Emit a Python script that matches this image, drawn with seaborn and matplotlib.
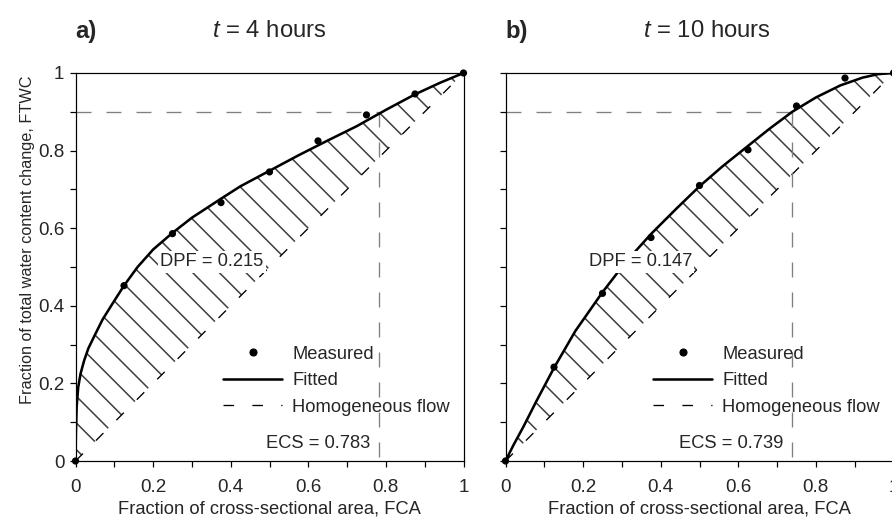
import numpy as np
import matplotlib
matplotlib.use("Agg")
import matplotlib.pyplot as plt
import seaborn as sns
from matplotlib.lines import Line2D
from matplotlib.ticker import MultipleLocator, FuncFormatter

# measured points
fca_measured = [0, 0.125, 0.25, 0.375, 0.5, 0.625, 0.75, 0.875, 1.0]
ftwc_measured_4h = [0, 0.452, 0.586, 0.666, 0.745, 0.825, 0.892, 0.946, 1.0]
ftwc_measured_10h = [0, 0.242, 0.432, 0.576, 0.71, 0.802, 0.915, 0.987, 1.0]

# fitted curves
fca_fit_4h = [0, 0.001, 0.003, 0.007, 0.013, 0.022, 0.033, 0.05, 0.07, 0.095, 0.125,
              0.16, 0.2, 0.25, 0.3, 0.375, 0.425, 0.5, 0.575, 0.65, 0.725, 0.8,
              0.875, 0.94, 1.0]
ftwc_fit_4h = [0, 0.07, 0.14, 0.19, 0.225, 0.258, 0.29, 0.325, 0.365, 0.405, 0.452,
               0.50, 0.545, 0.588, 0.627, 0.676, 0.708, 0.748, 0.788, 0.826, 0.863, 0.905,
               0.945, 0.975, 1.0]
fca_fit_10h = [0, 0.02, 0.046, 0.08, 0.125, 0.18, 0.25, 0.31, 0.375, 0.44, 0.5,
               0.56, 0.625, 0.68, 0.739, 0.8, 0.863, 0.92, 0.96, 1.0]
ftwc_fit_10h = [0, 0.04, 0.088, 0.155, 0.24, 0.335, 0.435, 0.513, 0.585, 0.65, 0.708,
                0.76, 0.812, 0.856, 0.9, 0.937, 0.968, 0.988, 0.997, 1.0]

panel_tags = ["a)", "b)"]
panel_hours = ["4", "10"]
dpf_values = [0.215, 0.147]
ecs_values = [0.783, 0.739]
ftwc_threshold = 0.9

sns.set_style("ticks")
plt.rcParams["font.family"] = ["Liberation Sans", "DejaVu Sans"]
plt.rcParams["mathtext.fontset"] = "custom"
plt.rcParams["mathtext.rm"] = "Liberation Sans"
plt.rcParams["mathtext.it"] = "Liberation Sans:italic"
plt.rcParams["hatch.linewidth"] = 1.4
plt.rcParams["lines.scale_dashes"] = False

dpi = 80
fig = plt.figure(figsize=(892 / dpi, 518 / dpi), dpi=dpi)
W, H = 892, 518
ax_a = fig.add_axes([75.5 / W, (518 - 461) / H, 388 / W, 388 / H])
ax_b = fig.add_axes([505.5 / W, (518 - 461) / H, 388 / W, 388 / H])

panels = [
    (ax_a, fca_fit_4h, ftwc_fit_4h, ftwc_measured_4h),
    (ax_b, fca_fit_10h, ftwc_fit_10h, ftwc_measured_10h),
]
diag_style = (0, (9.5, 16.5))
grey_style = (0, (13.5, 13.5))
fs = 16.5

for i, (ax, fx, fy, my) in enumerate(panels):
    fx_arr = np.array(fx)
    ax.fill_between(fx_arr, fx_arr, fy, facecolor="white", edgecolor="0.25",
                    hatch="\\", linewidth=0, zorder=1)
    sns.lineplot(x=[0, 1], y=[0, 1], color="black", lw=1.2, linestyle=diag_style,
                 ax=ax, zorder=2)
    ecs = ecs_values[i]
    ax.plot([0, ecs], [ftwc_threshold, ftwc_threshold], color="0.5", lw=1.2,
            linestyle=grey_style, zorder=2)
    ax.plot([ecs, ecs], [ftwc_threshold, 0], color="0.5", lw=1.2,
            linestyle=grey_style, zorder=2)
    sns.lineplot(x=fx, y=fy, sort=False, estimator=None, color="black", lw=2.3,
                 ax=ax, zorder=3)
    sns.scatterplot(x=fca_measured, y=my, color="black", s=42, edgecolor="none",
                    ax=ax, zorder=4, clip_on=False)

    ax.text(0.214 if i else 0.219, 0.513, f"DPF = {dpf_values[i]}", fontsize=fs,
            ha="left", va="center", zorder=5,
            bbox=dict(facecolor="white", edgecolor="none", pad=2))
    ax.text(ecs - 0.024, 0.046, f"ECS = {ecs}", fontsize=fs, ha="right",
            va="center", zorder=5)

    ax.set_xlim(0, 1)
    ax.set_ylim(0, 1)
    ax.xaxis.set_major_locator(MultipleLocator(0.2))
    ax.xaxis.set_minor_locator(MultipleLocator(0.1))
    ax.yaxis.set_major_locator(MultipleLocator(0.2))
    ax.yaxis.set_minor_locator(MultipleLocator(0.1))
    fmt = FuncFormatter(lambda v, p: f"{v:g}")
    ax.xaxis.set_major_formatter(fmt)
    ax.yaxis.set_major_formatter(fmt)
    ax.tick_params(which="both", direction="out", width=1.1, color="black",
                   labelsize=17)
    ax.tick_params(which="major", length=5.5)
    ax.tick_params(which="minor", length=5)
    ax.tick_params(axis="x", which="major", pad=10.5)
    ax.tick_params(axis="y", which="major", pad=4.5)
    for sp in ax.spines.values():
        sp.set_visible(True)
        sp.set_linewidth(1.1)
        sp.set_color("black")
    ax.set_xlabel("Fraction of cross-sectional area, FCA", fontsize=fs, labelpad=4.5)
    if i == 1:
        ax.set_yticklabels([])
        ax.set_ylabel("")

    ax.text(0, 1.108, panel_tags[i], transform=ax.transAxes, fontsize=21.5,
            fontweight="bold", ha="left", va="center")
    ax.text(0.518 if i else 0.5, 1.108, f"$t$ = {panel_hours[i]} hours",
            transform=ax.transAxes, fontsize=21.5, ha="center", va="center")

    handles = [
        Line2D([], [], marker="o", ls="none", color="black", markersize=6.3),
        Line2D([], [], color="black", lw=2.3),
        Line2D([], [], color="black", lw=1.2, linestyle=diag_style),
    ]
    ax.legend(handles, ["Measured", "Fitted", "Homogeneous flow"], loc="upper left",
              bbox_to_anchor=(0.381, 0.297), frameon=False, fontsize=fs,
              handlelength=3.2, handletextpad=0.55, labelspacing=0.52,
              borderpad=0, borderaxespad=0)

ax_a.set_ylabel("Fraction of total water content change, FTWC", fontsize=14.6)
ax_a.yaxis.set_label_coords(-0.105, 0.57)

fig.savefig("out.png", dpi=dpi)
